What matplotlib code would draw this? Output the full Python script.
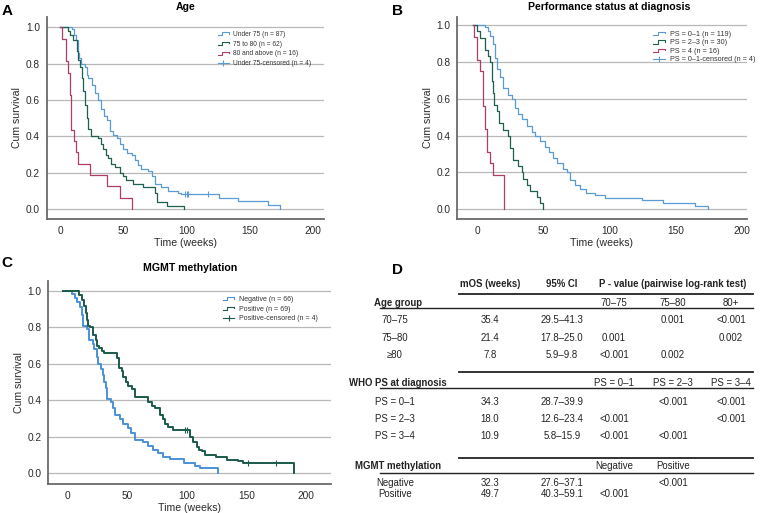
import numpy as np
import matplotlib
matplotlib.use('Agg')
import matplotlib.pyplot as plt
from matplotlib.lines import Line2D
from matplotlib.legend_handler import HandlerBase, HandlerLine2D

plt.rcParams['font.family'] = ['Liberation Sans', 'DejaVu Sans']

BLUE = '#5b9bd5'
GREEN = '#1f5f50'
RED = '#b03a68'

# ---------------- Panel A: age (drop times, survival after drop) ----------------
age_u75_t = [9.7, 11.3, 12.5, 14.0, 15.0, 16.5, 19.7, 21.0, 22.4, 25.0, 27.6, 29.7, 32.4, 35.0, 36.8,
             39.5, 42.0, 44.7, 47.4, 50.0, 52.6, 57.0, 59.0, 61.8, 64.4, 69.7, 72.4, 75.0, 80.2, 85.5,
             93.4, 96.0, 125.7, 140.8, 164.4, 173.6]
age_u75_s = [0.99, 0.96, 0.93, 0.86, 0.83, 0.80, 0.78, 0.74, 0.72, 0.68, 0.64, 0.60, 0.55, 0.51, 0.49,
             0.43, 0.41, 0.39, 0.36, 0.33, 0.31, 0.30, 0.27, 0.24, 0.22, 0.21, 0.18, 0.14, 0.12, 0.10,
             0.09, 0.083, 0.062, 0.044, 0.022, 0.0]
age_u75_cens = [98.7, 100.0, 101.3, 117.0]

age_7580_t = [6.6, 8.0, 10.5, 13.2, 14.5, 15.8, 17.1, 18.4, 19.7, 21.0, 22.4, 24.5, 30.3, 32.4, 34.2,
              36.0, 38.2, 40.3, 43.4, 47.4, 50.0, 51.8, 57.9, 65.8, 75.0, 76.3, 84.2, 98.0]
age_7580_s = [0.98, 0.96, 0.93, 0.87, 0.82, 0.78, 0.72, 0.65, 0.57, 0.50, 0.44, 0.40, 0.39, 0.36, 0.33,
              0.30, 0.28, 0.25, 0.23, 0.20, 0.18, 0.16, 0.14, 0.12, 0.09, 0.04, 0.016, 0.0]

age_80_t = [1.8, 4.5, 6.0, 7.6, 8.7, 10.8, 12.6, 14.2, 23.4, 36.8, 47.4, 57.0]
age_80_s = [0.9375, 0.8125, 0.75, 0.625, 0.4375, 0.375, 0.3125, 0.25, 0.1875, 0.125, 0.0625, 0.0]

# ---------------- Panel B: performance status ----------------
ps01_t = [5.8, 8.3, 10.0, 11.6, 13.4, 15.2, 17.2, 19.7, 23.5, 26.0, 28.5, 31.0, 33.6, 37.4, 41.2,
          43.7, 47.4, 51.2, 54.5, 57.5, 60.5, 64.6, 67.6, 70.0, 73.9, 77.7, 82.2, 89.0, 96.6,
          125.0, 140.2, 164.7, 174.8]
ps01_s = [0.99, 0.97, 0.94, 0.90, 0.82, 0.76, 0.72, 0.66, 0.62, 0.60, 0.55, 0.52, 0.49, 0.45, 0.42,
          0.40, 0.37, 0.34, 0.31, 0.28, 0.25, 0.22, 0.20, 0.16, 0.13, 0.11, 0.087, 0.078, 0.06,
          0.05, 0.033, 0.017, 0.0]

ps23_t = [0.0, 2.0, 5.8, 8.3, 9.6, 10.9, 12.1, 13.0, 14.6, 16.7, 19.7, 23.5, 24.7, 27.3, 31.0,
          33.6, 34.8, 37.4, 39.9, 45.0, 47.4, 50.0]
ps23_s = [0.967, 0.933, 0.867, 0.833, 0.80, 0.70, 0.633, 0.567, 0.533, 0.467, 0.433, 0.40, 0.333,
          0.267, 0.233, 0.20, 0.167, 0.133, 0.10, 0.067, 0.033, 0.0]

ps4_t = [-2.5, -0.5, 2.0, 4.1, 5.8, 7.1, 9.6, 11.6, 20.4]
ps4_s = [0.9375, 0.8125, 0.75, 0.5625, 0.4375, 0.3125, 0.25, 0.1875, 0.0]

# ---------------- Panel C: MGMT methylation ----------------
neg_t = [3.4, 6.2, 8.1, 10.3, 11.7, 13.1, 16.5, 18.2, 21.0, 22.4, 24.3, 25.7, 27.7, 29.4, 30.5,
         32.2, 33.3, 36.1, 38.3, 39.7, 43.9, 46.7, 50.9, 53.1, 56.5, 63.5, 67.7, 71.9, 76.1, 80.3,
         85.9, 98.0, 107.0, 111.0, 126.4]
neg_s = [0.985, 0.963, 0.94, 0.91, 0.87, 0.81, 0.79, 0.73, 0.71, 0.68, 0.64, 0.60, 0.57, 0.54, 0.50,
         0.47, 0.41, 0.39, 0.36, 0.32, 0.30, 0.27, 0.25, 0.22, 0.18, 0.17, 0.15, 0.13, 0.11, 0.09,
         0.077, 0.058, 0.04, 0.027, 0.0]

pos_t = [9.8, 11.7, 13.7, 15.4, 16.5, 17.3, 18.7, 21.5, 23.8, 24.9, 26.6, 28.5, 30.5, 41.7, 43.4,
         45.3, 46.7, 49.0, 50.9, 53.7, 56.5, 67.7, 70.5, 73.3, 77.5, 80.3, 81.7, 84.5, 88.7, 102.8,
         105.6, 108.4, 110.0, 112.6, 115.4, 125.0, 133.5, 143.0, 147.3, 190.2]
pos_s = [0.98, 0.95, 0.92, 0.88, 0.84, 0.81, 0.80, 0.76, 0.73, 0.70, 0.69, 0.67, 0.66, 0.63, 0.58,
         0.56, 0.53, 0.50, 0.48, 0.46, 0.42, 0.39, 0.37, 0.36, 0.32, 0.30, 0.27, 0.255, 0.237, 0.20,
         0.17, 0.145, 0.13, 0.12, 0.10, 0.09, 0.075, 0.066, 0.057, 0.0]
pos_cens = [98.6, 100.0, 151.5, 175.3]

# ---------------- Panel D: table ----------------
col_heads = ['mOS (weeks)', '95% CI', 'P - value (pairwise log-rank test)']
age_heads = ['70–75', '75–80', '80+']
age_rows = ['70–75', '75–80', '≥80']
age_mos = ['35.4', '21.4', '7.8']
age_ci = ['29.5–41.3', '17.8–25.0', '5.9–9.8']
age_p = [['', '0.001', '<0.001'], ['0.001', '', '0.002'], ['<0.001', '0.002', '']]

ps_heads = ['PS = 0–1', 'PS = 2–3', 'PS = 3–4']
ps_rows = ['PS = 0–1', 'PS = 2–3', 'PS = 3–4']
ps_mos = ['34.3', '18.0', '10.9']
ps_ci = ['28.7–39.9', '12.6–23.4', '5.8–15.9']
ps_p = [['', '<0.001', '<0.001'], ['<0.001', '', '<0.001'], ['<0.001', '<0.001', '']]

mgmt_heads = ['Negative', 'Positive', '']
mgmt_rows = ['Negative', 'Positive']
mgmt_mos = ['32.3', '49.7']
mgmt_ci = ['27.6–37.1', '40.3–59.1']
mgmt_p = [['', '<0.001', ''], ['<0.001', '', '']]


class StepHandler(HandlerBase):
    def create_artists(self, legend, orig_handle, xdescent, ydescent, width, height, fontsize, trans):
        x0, y0 = -xdescent, -ydescent
        lo, hi = y0 + height * 0.15, y0 + height * 0.85
        xs = [x0, x0 + width * 0.4, x0 + width * 0.4, x0 + width, x0 + width]
        ys = [lo, lo, hi, hi, hi - height * 0.3]
        ln = Line2D(xs, ys, color=orig_handle.get_color(), lw=orig_handle.get_linewidth(),
                    transform=trans)
        return [ln]


def km(ax, t0, t, s, color, lw, cens=None):
    ax.step([t0] + t, [1.0] + s, where='post', color=color, lw=lw)
    if cens:
        idx = np.searchsorted(t, cens, side='right') - 1
        lvl = [s[i] for i in idx]
        ax.plot(cens, lvl, ls='none', marker='|', ms=4, mew=0.8, color=color)


def style(ax, xlim, ylim):
    ax.set_xlim(xlim)
    ax.set_ylim(ylim)
    ax.set_yticks(np.arange(0, 1.01, 0.2))
    ax.set_xticks([0, 50, 100, 150, 200])
    ax.yaxis.set_major_formatter('{x:.1f}')
    ax.grid(axis='y', color='#b8b8b8', lw=0.9)
    ax.set_axisbelow(True)
    for sp in ['top', 'right']:
        ax.spines[sp].set_visible(False)
    for sp in ['left', 'bottom']:
        ax.spines[sp].set_color('#6a6a6a')
        ax.spines[sp].set_linewidth(1.3)
    ax.tick_params(length=0, labelsize=7.3, colors='#2a2a2a', pad=5)
    ax.set_xlabel('Time (weeks)', fontsize=7.6, color='#2a2a2a', labelpad=1.5)
    ax.set_ylabel('Cum survival', fontsize=7.6, color='#2a2a2a', labelpad=2.5)


def legend(ax, handles, labels, anchor, spacing, size):
    hmap = {h: StepHandler() for h in handles[:-1]}
    hmap[handles[-1]] = HandlerLine2D(numpoints=1)
    ax.legend(handles, labels, loc='upper left', bbox_to_anchor=anchor, frameon=False,
              fontsize=size, handlelength=1.6, handletextpad=0.7, labelspacing=spacing,
              borderpad=0, borderaxespad=0, handler_map=hmap, labelcolor='#333333')


fig = plt.figure(figsize=(7.6, 5.13), dpi=100)

# Panel A
axA = fig.add_axes([47 / 760, 1 - 219 / 513, 277 / 760, 202 / 513])
km(axA, 0, age_u75_t, age_u75_s, BLUE, 0.9, age_u75_cens)
km(axA, 0, age_7580_t, age_7580_s, GREEN, 0.9)
km(axA, 0, age_80_t, age_80_s, RED, 0.9)
style(axA, (-10.3, 208.7), (-0.055, 1.057))
hA = [Line2D([], [], color=c, lw=0.8) for c in (BLUE, GREEN, RED)]
hA.append(Line2D([], [], color=BLUE, lw=0.8, marker='|', ms=5, mew=0.8))
legend(axA, hA, ['Under 75 (n = 87)', '75 to 80 (n = 62)', '80 and above (n = 16)',
                 'Under 75-censored (n = 4)'], (0.617, 0.93), 0.4, 4.8)

# Panel B
axB = fig.add_axes([457.3 / 760, 1 - 219 / 513, 289.4 / 760, 202.3 / 513])
km(axB, -3, ps01_t, ps01_s, BLUE, 0.9)
km(axB, -3, ps23_t, ps23_s, GREEN, 0.9)
km(axB, -3, ps4_t, ps4_s, RED, 0.9)
style(axB, (-15.1, 203.9), (-0.053, 1.047))
hB = [Line2D([], [], color=c, lw=0.8) for c in (BLUE, GREEN, RED)]
hB.append(Line2D([], [], color=BLUE, lw=0.8, marker='|', ms=5, mew=0.8))
legend(axB, hB, ['PS = 0–1 (n = 119)', 'PS = 2–3 (n = 30)', 'PS = 4 (n = 16)',
                 'PS = 0–1-censored (n = 4)'], (0.677, 0.93), 0.2, 5.2)

# Panel C
axC = fig.add_axes([48.3 / 760, 1 - 484 / 513, 282.7 / 760, 203 / 513])
km(axC, -4.2, neg_t, neg_s, '#4b91d8', 1.4)
km(axC, -4.2, pos_t, pos_s, '#1b5a4c', 1.4, pos_cens)
style(axC, (-16.3, 221.2), (-0.059, 1.055))
hC = [Line2D([], [], color=c, lw=0.8) for c in ('#4b91d8', '#1b5a4c')]
hC.append(Line2D([], [], color='#1b5a4c', lw=0.8, marker='|', ms=5, mew=0.8))
legend(axC, hC, ['Negative (n = 66)', 'Positive (n = 69)', 'Positive-censored (n = 4)'],
       (0.618, 0.925), 0.35, 5.0)

# titles and panel letters
fig.text(185.5 / 760, 1 - 7 / 513, 'Age', ha='center', va='center', fontsize=7.6, weight='bold')
fig.text(609 / 760, 1 - 7 / 513, 'Performance status at diagnosis', ha='center', va='center',
         fontsize=7.6, weight='bold')
fig.text(190 / 760, 1 - 268 / 513, 'MGMT methylation', ha='center', va='center', fontsize=7.6,
         weight='bold')
for letter, x, y in [('A', 2, 11), ('B', 392, 11), ('C', 1, 263), ('D', 392, 270)]:
    fig.text(x / 760, 1 - y / 513, letter, ha='left', va='center', fontsize=11, weight='bold')

# Panel D table drawn in pixel space
tab = fig.add_axes([0, 0, 1, 1], zorder=-1)
tab.set_xlim(0, 760)
tab.set_ylim(513, 0)
tab.axis('off')
fs = 6.9
tc = '#222222'
col_x = [490, 562, 673]
p_x = [614, 673, 731]
for txt, x in zip(col_heads, col_x):
    tab.text(x, 284.3, txt, ha='center', va='center', fontsize=fs, weight='bold', color=tc)

sections = [
    ('Age group', age_heads, age_rows, age_mos, age_ci, age_p, 294.3, 303.3, 308.3, [320, 338.3, 355]),
    ('WHO PS at diagnosis', ps_heads, ps_rows, ps_mos, ps_ci, ps_p, 371.7, 383.3, 387.7,
     [401.7, 419, 435.7]),
    ('MGMT methylation', mgmt_heads, mgmt_rows, mgmt_mos, mgmt_ci, mgmt_p, 457.7, 465.7, 473.3,
     [482.7, 494.3]),
]
for name, heads, rows, mos, ci, pv, y_top, y_head, y_line, y_rows in sections:
    tab.plot([459, 753], [y_top, y_top], color='#222222', lw=1.3)
    tab.plot([380, 753], [y_line, y_line], color='#222222', lw=1.0)
    tab.text(398, y_head, name, ha='center', va='center', fontsize=fs, weight='bold', color=tc)
    for h, x in zip(heads, p_x):
        tab.text(x, y_head, h, ha='center', va='center', fontsize=fs, color=tc)
    for r, m, c, p, y in zip(rows, mos, ci, pv, y_rows):
        tab.text(395, y, r, ha='center', va='center', fontsize=fs, color=tc)
        tab.text(col_x[0], y, m, ha='center', va='center', fontsize=fs, color=tc)
        tab.text(col_x[1], y, c, ha='center', va='center', fontsize=fs, color=tc)
        for v, x in zip(p, p_x):
            tab.text(x, y, v, ha='center', va='center', fontsize=fs, color=tc)

fig.savefig('out.png', dpi=100)
